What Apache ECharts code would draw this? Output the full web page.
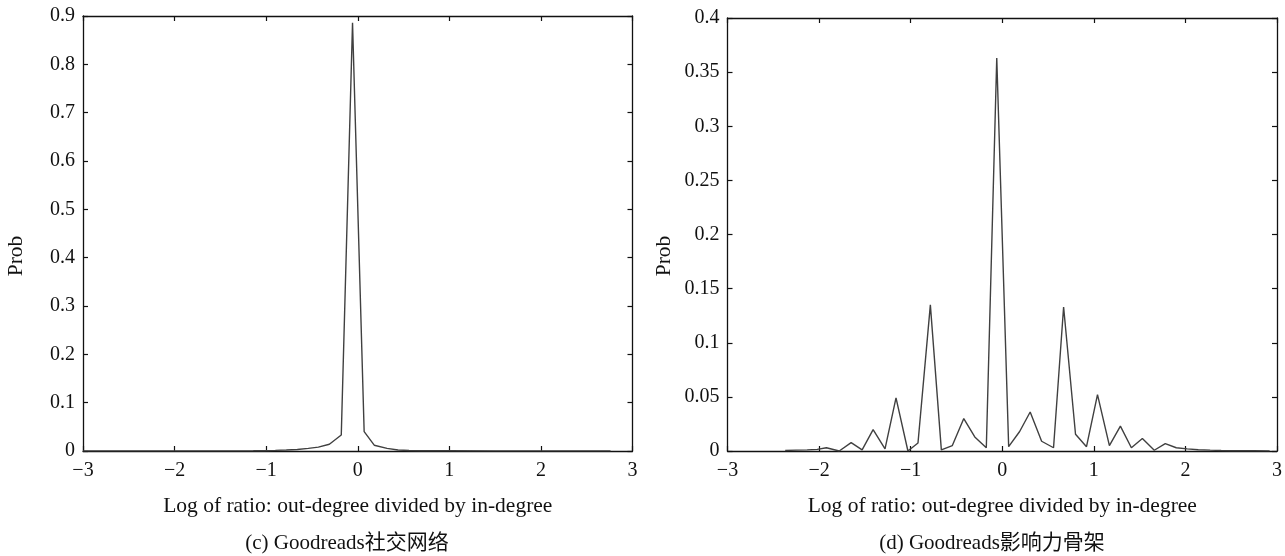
<!DOCTYPE html>
<html>
<head>
<meta charset="utf-8">
<script src="https://cdn.jsdelivr.net/npm/echarts@6/dist/echarts.min.js"></script>
<style>
html,body{margin:0;padding:0;background:#fff;}
#c{width:1285px;height:556px;}
</style>
</head>
<body>
<div id="c"></div>
<script>
// Left panel (c): Goodreads social network
var socialX = [-3.0, -2.5, -2.0, -1.5, -1.14, -1.02, -0.90, -0.78, -0.66, -0.54, -0.43, -0.31, -0.18, -0.057, 0.07, 0.18, 0.32, 0.44, 0.56, 0.70, 1.0, 1.5, 2.0, 2.5, 2.76];
var socialY = [0.0003, 0.0003, 0.0003, 0.0003, 0.0004, 0.0006, 0.0012, 0.002, 0.003, 0.0055, 0.008, 0.014, 0.033, 0.886, 0.040, 0.012, 0.0055, 0.002, 0.001, 0.0006, 0.0004, 0.0003, 0.0003, 0.0003, 0.0003];

// Right panel (d): Goodreads influence backbone
var backboneX = [-2.37, -2.25, -2.13, -2.02, -1.92, -1.78, -1.65, -1.53, -1.41, -1.28, -1.16, -1.03, -0.92, -0.785, -0.665, -0.545, -0.42, -0.30, -0.174, -0.06, 0.07, 0.19, 0.305, 0.43, 0.56, 0.67, 0.80, 0.92, 1.04, 1.17, 1.29, 1.41, 1.53, 1.66, 1.78, 1.90, 2.02, 2.14, 2.27, 2.39, 2.51, 2.63, 2.75, 2.92];
var backboneY = [0.0005, 0.0008, 0.001, 0.0015, 0.003, 0.0, 0.0078, 0.001, 0.0198, 0.002, 0.049, 0.0, 0.0074, 0.135, 0.001, 0.005, 0.030, 0.013, 0.003, 0.363, 0.004, 0.018, 0.036, 0.009, 0.003, 0.133, 0.0155, 0.004, 0.052, 0.005, 0.023, 0.003, 0.0115, 0.0007, 0.0068, 0.003, 0.002, 0.0012, 0.0008, 0.0005, 0.0003, 0.0002, 0.0002, 0.0001];

var xTicks = [-3, -2, -1, 0, 1, 2, 3];
var xLabel = 'Log of ratio: out-degree divided by in-degree';
var yLabel = 'Prob';
var captions = ['(c) Goodreads社交网络', '(d) Goodreads影响力骨架'];

var FONT = "'Liberation Serif', 'Noto Sans CJK SC', serif";
var FS = 20;
var FSN = 21.5;

function pairs(xs, ys) { return xs.map(function (x, i) { return [x, ys[i]]; }); }
function minusFmt(v) { return v < 0 ? '\u2212' + Math.abs(v) : String(v); }

var axisLine = { show: true, onZero: false, lineStyle: { color: '#111', width: 1.3 } };
var tick = { show: true, inside: true, length: 5, lineStyle: { color: '#111', width: 1.2 } };

function xAxes(gi) {
  return [
    { type: 'value', gridIndex: gi, position: 'bottom', min: xTicks[0], max: xTicks[xTicks.length - 1], interval: 1,
      axisLine: axisLine, axisTick: tick, splitLine: { show: false },
      axisLabel: { color: '#111', fontFamily: FONT, fontSize: FS, margin: 10, formatter: minusFmt },
      name: xLabel, nameLocation: 'middle', nameGap: 45,
      nameTextStyle: { color: '#111', fontFamily: FONT, fontSize: FSN } },
    { type: 'value', gridIndex: gi, position: 'top', min: xTicks[0], max: xTicks[xTicks.length - 1], interval: 1,
      axisLine: axisLine, axisTick: tick, splitLine: { show: false }, axisLabel: { show: false } }
  ];
}
function yAxes(gi, max, interval) {
  return [
    { type: 'value', gridIndex: gi, position: 'left', min: 0, max: max, interval: interval,
      axisLine: axisLine, axisTick: tick, splitLine: { show: false },
      axisLabel: { color: '#111', fontFamily: FONT, fontSize: FS, margin: 8 } },
    { type: 'value', gridIndex: gi, position: 'right', min: 0, max: max, interval: interval,
      axisLine: axisLine, axisTick: tick, splitLine: { show: false }, axisLabel: { show: false } }
  ];
}
function vText(x, y, t) {
  return { type: 'text', x: x, y: y, rotation: Math.PI / 2,
    style: { text: t, font: FSN + 'px ' + FONT, fill: '#111', textAlign: 'center', textVerticalAlign: 'middle' } };
}
function hText(x, y, t) {
  return { type: 'text', x: x, y: y,
    style: { text: t, font: '21px ' + FONT, fill: '#111', textAlign: 'center', textVerticalAlign: 'middle' } };
}

var chart = echarts.init(document.getElementById('c'), null, { renderer: 'canvas' });
chart.setOption({
  backgroundColor: '#fff',
  animation: false,
  grid: [
    { left: 83, top: 16, width: 549.5, height: 435 },
    { left: 727.5, top: 18, width: 550.5, height: 433 }
  ],
  xAxis: xAxes(0).concat(xAxes(1)),
  yAxis: yAxes(0, 0.9, 0.1).concat(yAxes(1, 0.4, 0.05)),
  graphic: [
    vText(16, 256, yLabel),
    vText(664, 256, yLabel),
    hText(347, 543, captions[0]),
    hText(992, 543, captions[1])
  ],
  series: [
    { type: 'line', xAxisIndex: 0, yAxisIndex: 0, data: pairs(socialX, socialY), showSymbol: false,
      lineStyle: { color: '#404040', width: 1.4 } },
    { type: 'line', xAxisIndex: 2, yAxisIndex: 2, data: pairs(backboneX, backboneY), showSymbol: false,
      lineStyle: { color: '#404040', width: 1.4 } }
  ]
});
</script>
</body>
</html>
